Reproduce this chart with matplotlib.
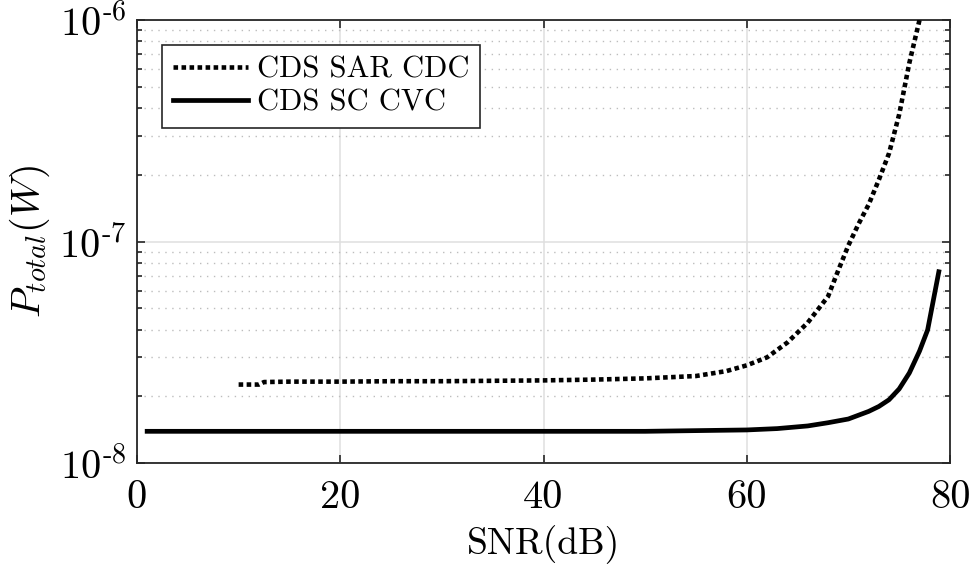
import matplotlib
matplotlib.use("Agg")
import matplotlib.pyplot as plt
from matplotlib.ticker import FixedLocator, FixedFormatter, NullLocator, NullFormatter

plt.rcParams["font.family"] = "serif"
plt.rcParams["font.serif"] = ["cmr10", "DejaVu Serif"]
plt.rcParams["mathtext.fontset"] = "cm"
plt.rcParams["axes.unicode_minus"] = False

# CDS SAR CDC total power vs SNR
snr_sar = [10, 12, 12.5, 15, 20, 25, 30, 35, 40, 45, 50, 55, 58, 60, 62, 64,
           66, 68, 69, 70, 71, 72, 73, 74, 75, 76, 77]
p_sar = [2.26e-8, 2.26e-8, 2.32e-8, 2.33e-8, 2.33e-8, 2.34e-8, 2.34e-8, 2.35e-8,
         2.36e-8, 2.38e-8, 2.41e-8, 2.47e-8, 2.60e-8, 2.76e-8, 3.00e-8, 3.50e-8,
         4.30e-8, 5.65e-8, 7.4e-8, 9.6e-8, 1.20e-7, 1.47e-7, 1.90e-7, 2.50e-7,
         3.75e-7, 6.4e-7, 1.0e-6]

# CDS SC CVC total power vs SNR
snr_cvc = [1, 10, 20, 30, 40, 50, 55, 60, 63, 66, 68, 70, 72, 73, 74, 75, 76,
           77, 77.8, 78.9]
p_cvc = [1.39e-8, 1.39e-8, 1.39e-8, 1.39e-8, 1.39e-8, 1.39e-8, 1.40e-8, 1.41e-8,
         1.43e-8, 1.47e-8, 1.52e-8, 1.58e-8, 1.71e-8, 1.80e-8, 1.93e-8, 2.16e-8,
         2.55e-8, 3.20e-8, 3.99e-8, 7.3e-8]

series_labels = ["CDS SAR CDC", "CDS SC CVC"]
x_ticks = [0, 20, 40, 60, 80]
x_tick_labels = ["0", "20", "40", "60", "80"]
y_ticks = [1e-8, 1e-7, 1e-6]
y_tick_labels = [r"$10^{\text{-}8}$", r"$10^{\text{-}7}$", r"$10^{\text{-}6}$"]
x_label = "SNR(dB)"
y_label = r"$P_{total}(W)$"

fig = plt.figure(figsize=(9.74, 5.66), dpi=100)
ax = fig.add_axes([137 / 974, 1 - 463 / 566, (950 - 137) / 974, (463 - 20) / 566])

ax.plot(snr_sar, p_sar, color="black", linewidth=3.3,
        linestyle=(0, (1.0, 0.75)), dash_capstyle="butt",
        label=series_labels[0], zorder=3)
ax.plot(snr_cvc, p_cvc, color="black", linewidth=3.4, linestyle="-",
        label=series_labels[1], zorder=3)

ax.set_yscale("log")
ax.set_xlim(0, 80)
ax.set_ylim(1e-8, 1e-6)

ax.xaxis.set_major_locator(FixedLocator(x_ticks))
ax.xaxis.set_major_formatter(FixedFormatter(x_tick_labels))
ax.xaxis.set_minor_locator(NullLocator())
ax.yaxis.set_major_locator(FixedLocator(y_ticks))
ax.yaxis.set_major_formatter(FixedFormatter(y_tick_labels))
minor_y = [m * 10.0 ** e for e in (-8, -7) for m in range(2, 10)]
ax.yaxis.set_minor_locator(FixedLocator(minor_y))
ax.yaxis.set_minor_formatter(NullFormatter())

spine_color = "#262626"
for s in ax.spines.values():
    s.set_color(spine_color)
    s.set_linewidth(1.3)

ax.tick_params(which="both", direction="in", top=True, right=True,
               color=spine_color, width=1.2)
ax.tick_params(which="major", length=6, labelsize=29)
ax.tick_params(axis="x", which="major", pad=12)
ax.tick_params(axis="y", which="major", pad=8)
ax.tick_params(which="minor", length=3.8)

ax.grid(True, which="major", color="#dfdfdf", linewidth=1.1, linestyle="-")
ax.grid(True, which="minor", axis="y", color="#bdbdbd", linewidth=1.0,
        linestyle=(0, (1, 4)))
ax.set_axisbelow(True)

ax.set_xlabel(x_label, fontsize=27, labelpad=7)
ax.set_ylabel(y_label, fontsize=29)
ax.yaxis.set_label_coords(-0.105, 0.5)

leg = ax.legend(loc="upper left", bbox_to_anchor=(0.0304, 0.9436),
                borderaxespad=0, fontsize=22, handlelength=2.45,
                handletextpad=0.3, borderpad=0.36, labelspacing=0.2,
                fancybox=False, framealpha=1, edgecolor=spine_color)
leg.get_frame().set_linewidth(1.2)

fig.savefig("out.png", dpi=100)
